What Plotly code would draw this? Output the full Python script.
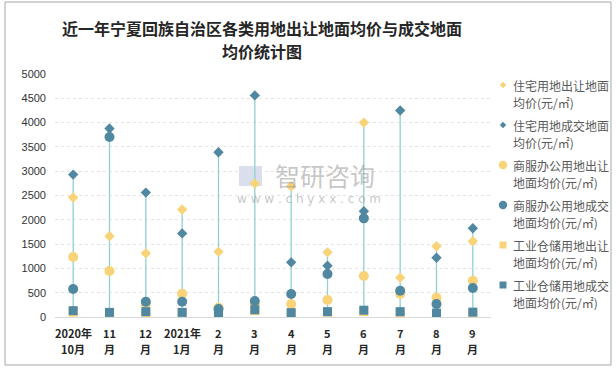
import plotly.graph_objects as go

categories = ["2020年10月", "11月", "12月", "2021年1月", "2月", "3月",
              "4月", "5月", "6月", "7月", "8月", "9月"]
tick_line1 = ["2020年", "11", "12", "2021年", "2", "3", "4", "5", "6", "7", "8", "9"]
tick_line2 = ["10月", "月", "月", "1月", "月", "月", "月", "月", "月", "月", "月", "月"]

res_transfer = [2460, 1660, 1310, 2210, 1345, 2745, 2690, 1330, 4000, 810, 1455, 1560]
res_deal = [2930, 3880, 2560, 1720, 3390, 4560, 1125, 1055, 2175, 4250, 1220, 1825]
com_transfer = [1235, 945, 270, 480, 190, 260, 265, 350, 845, 475, 395, 745]
com_deal = [575, 3705, 315, 315, 165, 330, 475, 885, 2030, 540, 265, 595]
ind_transfer = [100, 60, 70, 90, 50, 130, 80, 100, 110, 60, 60, 60]
ind_deal = [130, 95, 110, 95, 65, 150, 90, 110, 140, 110, 80, 100]

names_line1 = ["住宅用地出让地面", "住宅用地成交地面", "商服办公用地出让",
               "商服办公用地成交", "工业仓储用地出让", "工业仓储用地成交"]
names_line2 = ["均价(元/㎡)", "均价(元/㎡)", "地面均价(元/㎡)",
               "地面均价(元/㎡)", "地面均价(元/㎡)", "地面均价(元/㎡)"]

title_line1 = "近一年宁夏回族自治区各类用地出让地面均价与成交地面"
title_line2 = "均价统计图"

YELLOW = "#F8D377"
DARK = "#4F88A0"
LINE = "#8FD1CF"

series = [res_transfer, res_deal, com_transfer, com_deal, ind_transfer, ind_deal]
symbols = ["diamond", "diamond", "circle", "circle", "square", "square"]
colors = [YELLOW, DARK, YELLOW, DARK, YELLOW, DARK]
sizes = [8, 8, 10, 10, 9, 9]

W, H = 616, 369
L, R, T, B = 55, 125, 74, 52
pw, ph = W - L - R, H - T - B

def px(x):
    return (x - L) / pw

def py(y):
    return (H - B - y) / ph

fig = go.Figure()

# high-low lines
lx, ly = [], []
for i, c in enumerate(categories):
    vals = [s[i] for s in series]
    lx += [c, c, None]
    ly += [min(vals), max(vals), None]
fig.add_trace(go.Scatter(x=lx, y=ly, mode="lines", line=dict(color=LINE, width=1.3),
                         showlegend=False, hoverinfo="skip"))

for k, s in enumerate(series):
    fig.add_trace(go.Scatter(x=categories, y=s, mode="markers",
                             name=names_line1[k] + names_line2[k], showlegend=False,
                             marker=dict(symbol=symbols[k], color=colors[k], size=sizes[k],
                                         line=dict(width=0))))

shapes = [
    dict(type="rect", xref="paper", yref="paper", x0=px(5), x1=px(611), y0=py(365), y1=py(2),
         line=dict(color="#A6A6A6", width=1), fillcolor="rgba(0,0,0,0)", layer="below"),
    dict(type="rect", xref="paper", yref="paper", x0=px(239), x1=px(262), y0=py(186), y1=py(166),
         line=dict(width=0), fillcolor="rgba(170,185,215,0.45)", layer="below"),
]
TF = dict(size=16, color="#262626", family="Noto Sans CJK SC, sans-serif")
annotations = [
    dict(text="<b>" + title_line1 + "</b>", xref="paper", yref="paper", x=px(262), y=py(28),
         xanchor="center", yanchor="middle", showarrow=False, font=TF),
    dict(text="<b>" + title_line2 + "</b>", xref="paper", yref="paper", x=px(262), y=py(51),
         xanchor="center", yanchor="middle", showarrow=False, font=TF),
    dict(text="智研咨询", xref="paper", yref="paper", x=px(325), y=py(175),
         xanchor="center", yanchor="middle", showarrow=False,
         font=dict(size=25, color="rgba(150,150,150,0.55)")),
    dict(text="w w w . c h y x x . c o m", xref="paper", yref="paper", x=px(309), y=py(199),
         xanchor="center", yanchor="middle", showarrow=False,
         font=dict(size=12, color="rgba(150,150,150,0.55)", family="DejaVu Sans")),
]

# category labels (two lines each) placed on the x axis categories
XF = dict(size=11, color="#262626", family="Noto Sans CJK SC, sans-serif")
for c, t1, t2 in zip(categories, tick_line1, tick_line2):
    annotations.append(dict(text="<b>" + t1 + "</b>", xref="x", yref="paper", x=c, y=py(333),
                            xanchor="center", yanchor="middle", showarrow=False, font=XF))
    annotations.append(dict(text="<b>" + t2 + "</b>", xref="x", yref="paper", x=c, y=py(349),
                            xanchor="center", yanchor="middle", showarrow=False, font=XF))

# legend
MX, TX = 503, 511
for k in range(6):
    y1 = 85 + 40 * k
    c = colors[k]
    if symbols[k] == "diamond":
        r = 3.2
        path = (f"M {px(MX)} {py(y1 - r)} L {px(MX + r)} {py(y1)} "
                f"L {px(MX)} {py(y1 + r)} L {px(MX - r)} {py(y1)} Z")
        shapes.append(dict(type="path", xref="paper", yref="paper", path=path,
                           fillcolor=c, line=dict(width=0)))
    elif symbols[k] == "circle":
        r = 4.2
        shapes.append(dict(type="circle", xref="paper", yref="paper",
                           x0=px(MX - r), x1=px(MX + r), y0=py(y1 + r), y1=py(y1 - r),
                           fillcolor=c, line=dict(width=0)))
    else:
        r = 3.5
        shapes.append(dict(type="rect", xref="paper", yref="paper",
                           x0=px(MX - r), x1=px(MX + r), y0=py(y1 + r), y1=py(y1 - r),
                           fillcolor=c, line=dict(width=0)))
    annotations.append(dict(text=names_line1[k], xref="paper", yref="paper",
                            x=px(TX), y=py(y1), xanchor="left", yanchor="middle",
                            showarrow=False, font=dict(size=12, color="#595959")))
    annotations.append(dict(text=names_line2[k], xref="paper", yref="paper",
                            x=px(TX), y=py(y1 + 17), xanchor="left", yanchor="middle",
                            showarrow=False, font=dict(size=12, color="#595959")))

fig.update_layout(
    width=W, height=H,
    margin=dict(l=L, r=R, t=T, b=B),
    paper_bgcolor="white", plot_bgcolor="white",
    font=dict(family="Noto Sans CJK SC, sans-serif", color="#404040"),
    showlegend=False,
    xaxis=dict(type="category", categoryarray=categories, categoryorder="array",
               showgrid=False, showline=True, linecolor="#D9D9D9",
               linewidth=1, ticks="", showticklabels=False, range=[-0.5, 11.5],
               fixedrange=True),
    yaxis=dict(range=[0, 5000], dtick=500, showgrid=True, gridcolor="#E4E4E4",
               griddash="dot", gridwidth=1, zeroline=False, ticks="",
               tickfont=dict(size=11, color="#333333", family="Liberation Sans, sans-serif"),
               ticklabelstandoff=8, fixedrange=True),
    shapes=shapes,
    annotations=annotations,
)

fig.write_html("out.html", post_script="document.body.style.margin='0';",
               config={"displayModeBar": False})
